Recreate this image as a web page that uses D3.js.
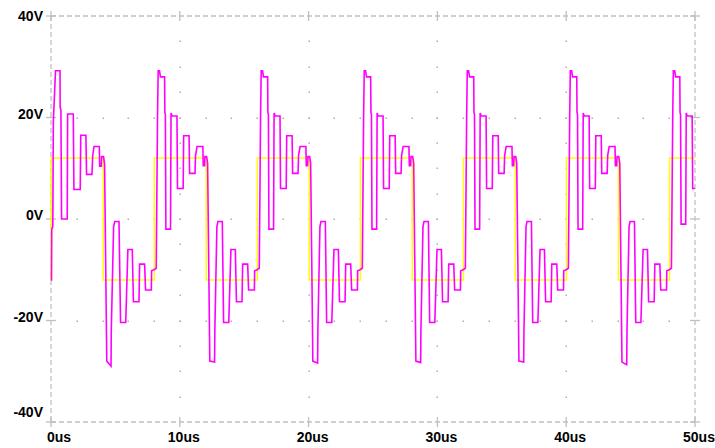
<!DOCTYPE html>
<html>
<head>
<meta charset="utf-8">
<script src="https://cdn.jsdelivr.net/npm/d3@7"></script>
<style>
  body { margin: 0; background: #fff; }
  text { font-family: "Liberation Sans", Arial, sans-serif; font-weight: bold; font-size: 14px; fill: #000; }
</style>
</head>
<body>
<div id="chart"></div>
<script>
// axis labels
var xTicks = [0, 10, 20, 30, 40, 50];
var xTickLabels = ["0us", "10us", "20us", "30us", "40us", "50us"];
var yTicks = [40, 20, 0, -20, -40];
var yTickLabels = ["40V", "20V", "0V", "-20V", "-40V"];

// square drive (yellow), [us, V]
var drive = [
  [0, -12], [0.02, 12], [4.05, 12], [4.05, -12], [8.02, -12], [8.02, 12],
  [12.05, 12], [12.05, -12], [16.02, -12], [16.02, 12], [20.05, 12], [20.05, -12],
  [24.02, -12], [24.02, 12], [28.05, 12], [28.05, -12], [32.02, -12], [32.02, 12],
  [36.05, 12], [36.05, -12], [40.02, -12], [40.02, 12], [44.05, 12], [44.05, -12],
  [48.02, -12], [48.02, 12], [50, 12]
];

// ringing response (magenta), one array per cycle, time relative to cycle start
var cycleStart = [0, 8, 16, 24, 32, 40, 48];
var cycle0 = [
  [0.00, -12], [0.04, -12], [0.06, -2], [0.14, -1.5], [0.18, 19], [0.35, 29.2], [0.70, 29.2],
  [0.71, 22], [0.77, 21.5], [0.82, 0], [1.26, 0], [1.29, 20.7], [1.73, 20.7], [1.78, 5.8],
  [2.27, 5.8], [2.31, 16.5], [2.71, 16.5], [2.76, 8.8], [3.18, 8.8], [3.24, 12.5], [3.34, 14.3],
  [3.75, 14.3], [3.78, 10.4], [3.90, 10.4], [3.93, 12.3], [4.08, 12.3], [4.16, 10.8],
  [4.33, -28], [4.66, -29], [4.68, -22], [4.86, -1.5], [4.95, -0.5], [5.28, -0.5], [5.40, -20.4],
  [5.80, -20.4], [5.97, -6], [6.31, -6], [6.40, -16.3], [6.83, -16.3], [6.88, -8.9], [7.27, -8.9],
  [7.34, -14], [7.79, -14], [7.81, -10.2], [8.00, -10.0]
];
var cycle1 = [
  [0.00, -10.0], [0.17, -9.7], [0.22, 5], [0.27, 20], [0.32, 29.2], [0.42, 29.2], [0.50, 28],
  [0.82, 28], [0.84, 21], [0.88, 20.5], [0.92, -2], [1.28, -2], [1.32, 20.9], [1.40, 20.3],
  [1.78, 20.3], [1.82, 6], [2.26, 6], [2.30, 16.4], [2.72, 16.4], [2.76, 9], [3.18, 9],
  [3.22, 12.5], [3.34, 14.3], [3.79, 14.3], [3.82, 10.5], [3.92, 10.5], [3.95, 12.3], [4.08, 12.3],
  [4.16, 11], [4.33, -28], [4.70, -28.2], [4.72, -22], [4.88, -1.5], [4.96, -0.5], [5.30, -0.5],
  [5.40, -20.4], [5.80, -20.4], [5.97, -6], [6.31, -6], [6.40, -16.3], [6.83, -16.3], [6.88, -8.9],
  [7.27, -8.9], [7.34, -14], [7.79, -14], [7.81, -10.2], [8.00, -10.0]
];
var cycle2 = [
  [0.00, -10.0], [0.17, -9.7], [0.22, 5], [0.27, 20], [0.32, 29.2], [0.42, 29.2], [0.50, 28],
  [0.82, 28], [0.84, 21], [0.88, 20.5], [0.92, -2], [1.28, -2], [1.32, 20.9], [1.40, 20.3],
  [1.78, 20.3], [1.82, 6], [2.26, 6], [2.30, 16.4], [2.72, 16.4], [2.76, 9], [3.18, 9],
  [3.22, 12.5], [3.34, 14.3], [3.79, 14.3], [3.82, 10.5], [3.92, 10.5], [3.95, 12.3], [4.08, 12.3],
  [4.16, 11], [4.33, -28], [4.70, -28.4], [4.72, -22], [4.88, -1.5], [4.96, -0.5], [5.30, -0.5],
  [5.40, -20.4], [5.80, -20.4], [5.97, -6], [6.31, -6], [6.40, -16.3], [6.83, -16.3], [6.88, -8.9],
  [7.27, -8.9], [7.34, -14], [7.79, -14], [7.81, -10.2], [8.00, -10.0]
];
var cycle3 = [
  [0.00, -10.0], [0.17, -9.7], [0.22, 5], [0.27, 20], [0.32, 29.2], [0.42, 29.2], [0.50, 28],
  [0.82, 28], [0.84, 21], [0.88, 20.5], [0.92, -2], [1.28, -2], [1.32, 20.9], [1.40, 20.3],
  [1.78, 20.3], [1.82, 6], [2.26, 6], [2.30, 16.4], [2.72, 16.4], [2.76, 9], [3.18, 9],
  [3.22, 12.5], [3.34, 14.3], [3.79, 14.3], [3.82, 10.5], [3.92, 10.5], [3.95, 12.3], [4.08, 12.3],
  [4.16, 11], [4.33, -28], [4.70, -28.3], [4.72, -22], [4.88, -1.5], [4.96, -0.5], [5.30, -0.5],
  [5.40, -20.4], [5.80, -20.4], [5.97, -6], [6.31, -6], [6.40, -16.3], [6.83, -16.3], [6.88, -8.9],
  [7.27, -8.9], [7.34, -14], [7.79, -14], [7.81, -10.2], [8.00, -10.0]
];
var cycle4 = [
  [0.00, -10.0], [0.17, -9.7], [0.22, 5], [0.27, 20], [0.32, 29.2], [0.42, 29.2], [0.50, 28],
  [0.82, 28], [0.84, 21], [0.88, 20.5], [0.92, -2], [1.28, -2], [1.32, 20.9], [1.40, 20.3],
  [1.78, 20.3], [1.82, 6], [2.26, 6], [2.30, 16.4], [2.72, 16.4], [2.76, 9], [3.18, 9],
  [3.22, 12.5], [3.34, 14.3], [3.79, 14.3], [3.82, 10.5], [3.92, 10.5], [3.95, 12.3], [4.08, 12.3],
  [4.16, 11], [4.33, -28], [4.70, -28.2], [4.72, -22], [4.88, -1.5], [4.96, -0.5], [5.30, -0.5],
  [5.40, -20.4], [5.80, -20.4], [5.97, -6], [6.31, -6], [6.40, -16.3], [6.83, -16.3], [6.88, -8.9],
  [7.27, -8.9], [7.34, -14], [7.79, -14], [7.81, -10.2], [8.00, -10.0]
];
var cycle5 = [
  [0.00, -10.0], [0.17, -9.7], [0.22, 5], [0.27, 20], [0.32, 29.2], [0.42, 29.2], [0.50, 28],
  [0.82, 28], [0.84, 21], [0.88, 20.5], [0.92, -2], [1.28, -2], [1.32, 20.9], [1.40, 20.3],
  [1.78, 20.3], [1.82, 6], [2.26, 6], [2.30, 16.4], [2.72, 16.4], [2.76, 9], [3.18, 9],
  [3.22, 12.5], [3.34, 14.3], [3.79, 14.3], [3.82, 10.5], [3.92, 10.5], [3.95, 12.3], [4.08, 12.3],
  [4.16, 11], [4.33, -28.2], [4.70, -28.7], [4.72, -22], [4.88, -1.5], [4.96, -0.5], [5.30, -0.5],
  [5.40, -20.4], [5.80, -20.4], [5.97, -6], [6.31, -6], [6.40, -16.3], [6.83, -16.3], [6.88, -8.9],
  [7.27, -8.9], [7.34, -14], [7.79, -14], [7.81, -10.2], [8.00, -10.0]
];
var cycle6 = [
  [0.00, -10.0], [0.17, -9.7], [0.22, 5], [0.27, 20], [0.32, 29.2], [0.42, 29.2], [0.50, 28],
  [0.82, 28], [0.84, 21], [0.88, 20.5], [0.92, -1], [1.28, -1], [1.32, 20.9], [1.40, 20.3],
  [1.78, 20.3], [1.82, 6], [2.00, 6]
];
var cycles = [cycle0, cycle1, cycle2, cycle3, cycle4, cycle5, cycle6];

var svg = d3.select("#chart").append("svg")
  .attr("width", 715)
  .attr("height", 448);

var margin = {top: 16, right: 20, bottom: 26, left: 51},
  width = 715 - margin.left - margin.right,
  height = 448 - margin.top - margin.bottom;

var x = d3.scaleLinear().domain([0, 50]).range([margin.left, margin.left + width]);
var y = d3.scaleLinear().domain([-40, 40]).range([margin.top + height, margin.top]);

var gridColor = "#c0c0c0";
var grid = svg.append("g");

// dotted inner grid: along inner horizontal lines every 2us, along inner vertical lines every 5V
var xMinor = d3.range(2, 50, 2);
var yMinor = d3.range(-35, 40, 5);
[20, 0, -20].forEach(function(v){
  grid.selectAll(null)
    .data(xMinor)
    .enter()
    .append("rect")
    .attr("x", function(d){ return Math.round(x(d)) - 0.5; })
    .attr("y", Math.round(y(v)) - 0.5)
    .attr("width", 1.5).attr("height", 1.5)
    .attr("fill", "#b0b0b0");
});
[10, 20, 30, 40].forEach(function(t){
  grid.selectAll(null)
    .data(yMinor)
    .enter()
    .append("rect")
    .attr("x", Math.round(x(t)) - 0.5)
    .attr("y", function(d){ return Math.round(y(d)) - 0.5; })
    .attr("width", 1.5).attr("height", 1.5)
    .attr("fill", "#b0b0b0");
});

// dashed frame
var x0 = x(0), x1 = x(50), y0 = y(-40), y1 = y(40);
[[x0, y1, x1, y1], [x0, y0, x1, y0], [x0, y1, x0, y0], [x1, y1, x1, y0]].forEach(function(s){
  grid.append("line")
    .attr("x1", s[0]).attr("y1", s[1]).attr("x2", s[2]).attr("y2", s[3])
    .attr("stroke", gridColor)
    .attr("stroke-width", 1.3)
    .attr("stroke-dasharray", "5,3");
});

// '+' ticks on the frame
xTicks.forEach(function(t){
  [y1, y0].forEach(function(yy){
    grid.append("line")
      .attr("x1", x(t)).attr("x2", x(t))
      .attr("y1", yy - 5).attr("y2", yy + 5)
      .attr("stroke", gridColor).attr("stroke-width", 1.3);
  });
});
yTicks.forEach(function(v){
  [x0, x1].forEach(function(xx){
    grid.append("line")
      .attr("x1", xx - 5).attr("x2", xx + 5)
      .attr("y1", y(v)).attr("y2", y(v))
      .attr("stroke", gridColor).attr("stroke-width", 1.3);
  });
});

// labels
svg.selectAll(".ylab")
  .data(yTicks)
  .enter()
  .append("text")
  .attr("class", "ylab")
  .attr("x", 43)
  .attr("y", function(d){
    if (d == 40) return y(d) + 5;
    if (d == -40) return y(d) - 5;
    return y(d) + 1;
  })
  .attr("text-anchor", "end")
  .text(function(d, i){ return yTickLabels[i]; });

svg.selectAll(".xlab")
  .data(xTicks)
  .enter()
  .append("text")
  .attr("class", "xlab")
  .attr("x", function(d){ return d == 0 ? x(d) - 4 : x(d) + 4; })
  .attr("y", 442)
  .attr("text-anchor", function(d){ return d == 0 ? "start" : "middle"; })
  .text(function(d, i){ return xTickLabels[i]; });

var line = d3.line()
  .x(function(d){ return x(d[0]); })
  .y(function(d){ return y(d[1]); });

svg.append("path")
  .datum(drive)
  .attr("fill", "none")
  .attr("stroke", "#ffff00")
  .attr("stroke-width", 1.5)
  .attr("d", line);

var ring = [];
for (var c = 0 ; c < cycles.length ; c++){
  for (var i = 0 ; i < cycles[c].length ; i++){
    if (c > 0 && i == 0) continue;
    ring.push([cycleStart[c] + cycles[c][i][0], cycles[c][i][1]]);
  }
}

svg.append("path")
  .datum(ring)
  .attr("fill", "none")
  .attr("stroke", "#ff00ff")
  .attr("stroke-width", 1.6)
  .attr("stroke-linejoin", "miter")
  .attr("d", line);
</script>
</body>
</html>
